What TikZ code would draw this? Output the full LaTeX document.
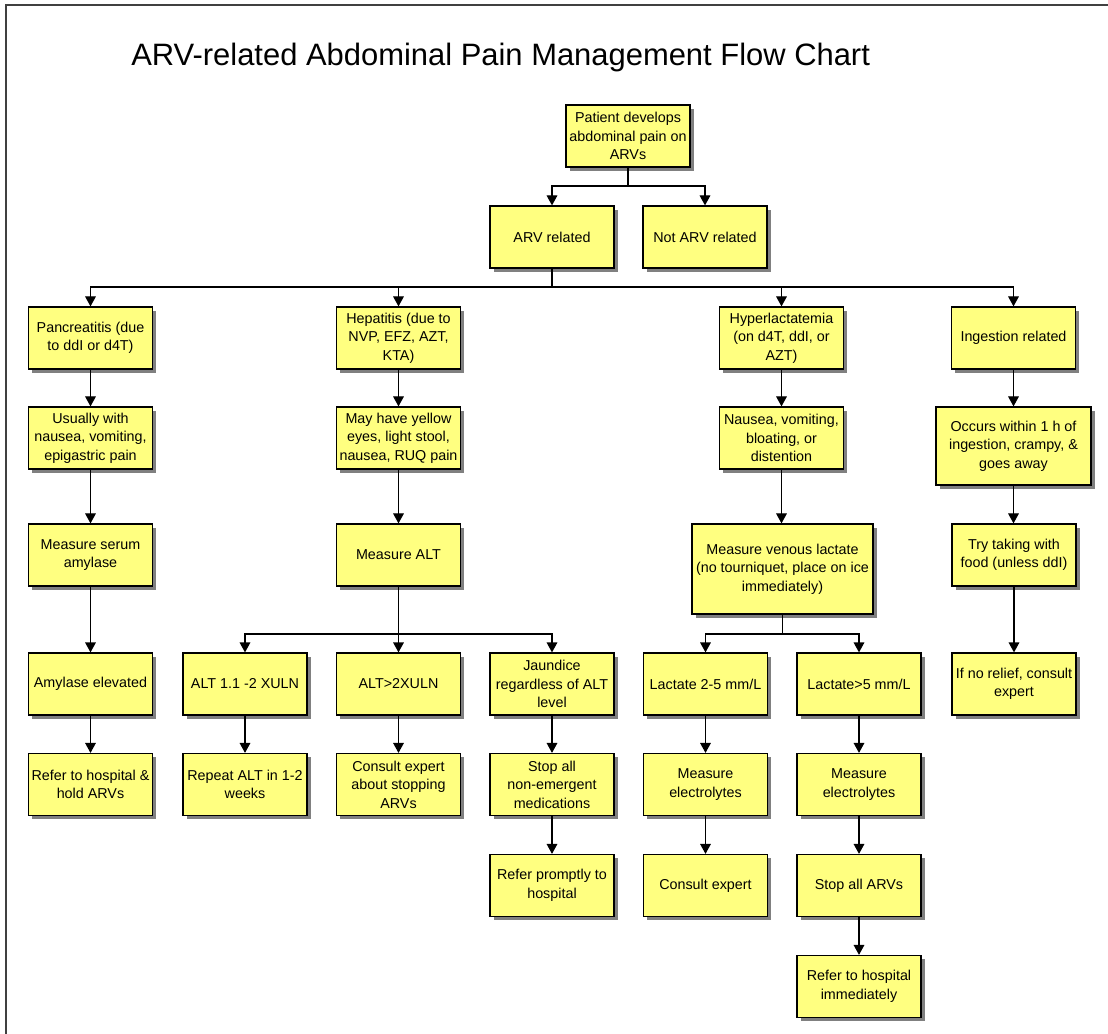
\documentclass[tikz,border=0pt]{standalone}
\usepackage{fontspec}
\setmainfont{Liberation Sans}
\usetikzlibrary{arrows.meta,shadows}
\definecolor{boxfill}{RGB}{255,255,128}
\definecolor{shadowgray}{RGB}{128,128,128}
\begin{document}
\begin{tikzpicture}[x=0.75pt,y=-0.75pt,
  bx/.style={draw=black, line width=0.9pt, fill=boxfill, rectangle, inner sep=1pt,
    minimum width=93pt, minimum height=46.5pt, align=center,
    font=\fontsize{10.75}{13.9}\selectfont,
    drop shadow={shadow xshift=2.8pt, shadow yshift=-2.8pt, fill=shadowgray, opacity=1}},
  ln/.style={draw=black, line width=0.9pt},
  arr/.style={draw=black, line width=0.9pt, -{Triangle[width=8pt,length=7.5pt]}}]
\useasboundingbox (0,0) rectangle (1108,1034);
\fill[white] (0,0) rectangle (1108,1034);
\draw[line width=1.5pt, black!75] (6,1034) -- (6,5) -- (1108,5);
\node[anchor=base west, inner sep=0pt, font=\fontsize{23.2}{28}\selectfont] (title) at (131,66) {ARV-related Abdominal Pain Management Flow Chart};
% row 1
\node[bx] (top) at (628,136) {Patient develops\\abdominal pain on\\ARVs};
\node[bx] (arv) at (552,237) {ARV related};
\node[bx] (notarv) at (705,237) {Not ARV related};
% row 2
\node[bx] (panc) at (90.5,338) {Pancreatitis (due\\to ddI or d4T)};
\node[bx] (hep) at (398.5,338) {Hepatitis (due to\\NVP, EFZ, AZT,\\KTA)};
\node[bx] (hyper) at (781.5,338) {Hyperlactatemia\\(on d4T, ddI, or\\AZT)};
\node[bx] (ingest) at (1013.5,338) {Ingestion related};
% row 3
\node[bx] (usually) at (90.5,438) {Usually with\\nausea, vomiting,\\epigastric pain};
\node[bx] (mayhave) at (398.5,438) {May have yellow\\eyes, light stool,\\nausea, RUQ pain};
\node[bx] (nausea) at (781.5,438) {Nausea, vomiting,\\bloating, or\\distention};
\node[bx, minimum width=116.25pt, minimum height=58.5pt] (occurs) at (1013.5,446) {Occurs within 1 h of\\ingestion, crampy, \&\\goes away};
% row 4
\node[bx] (measamy) at (90.5,555) {Measure serum\\amylase};
\node[bx] (measalt) at (398.5,555) {Measure ALT};
\node[bx, minimum width=135.75pt, minimum height=67.5pt] (venous) at (782.5,569) {Measure venous lactate\\(no tourniquet, place on ice\\immediately)};
\node[bx] (try) at (1014,555) {Try taking with\\food (unless ddI)};
% row 5
\node[bx] (amyel) at (90.5,684) {Amylase elevated};
\node[bx] (alta) at (245,684) {ALT 1.1 -2 XULN};
\node[bx] (altb) at (398.5,684) {ALT>2XULN};
\node[bx] (jaund) at (552,684) {Jaundice\\regardless of ALT\\level};
\node[bx] (laca) at (705.5,684) {Lactate 2-5 mm/L};
\node[bx] (lacb) at (859,684) {Lactate>5 mm/L};
\node[bx] (norelief) at (1014,684) {If no relief, consult\\expert};
% row 6
\node[bx] (refer) at (90.5,784.5) {Refer to hospital \&\\hold ARVs};
\node[bx] (repeat) at (245,784.5) {Repeat ALT in 1-2\\weeks};
\node[bx] (consab) at (398.5,784.5) {Consult expert\\about stopping\\ARVs};
\node[bx] (stopne) at (552,784.5) {Stop all\\non-emergent\\medications};
\node[bx] (eleca) at (705.5,784.5) {Measure\\electrolytes};
\node[bx] (elecb) at (859,784.5) {Measure\\electrolytes};
% row 7
\node[bx] (prompt) at (552,885.5) {Refer promptly to\\hospital};
\node[bx] (consult) at (705.5,885.5) {Consult expert};
\node[bx] (stoparv) at (859,885.5) {Stop all ARVs};
% row 8
\node[bx] (immed) at (859,986.5) {Refer to hospital\\immediately};
% bus coordinates
\coordinate (b1) at (628,186);
\coordinate (b2) at (552,287);
\coordinate (b3) at (398.5,634);
\coordinate (b4) at (782.5,634);
% connectors
\draw[ln] (top.south) -- (b1);
\draw[arr] (b1) -| (arv);
\draw[arr] (b1) -| (notarv);
\draw[ln] (arv.south) -- (b2);
\draw[arr] (b2) -| (panc);
\draw[arr] (b2) -| (hep);
\draw[arr] (b2) -| (hyper);
\draw[arr] (b2) -| (ingest);
\draw[arr] (panc) -- (usually);
\draw[arr] (hep) -- (mayhave);
\draw[arr] (hyper) -- (nausea);
\draw[arr] (ingest) -- (occurs);
\draw[arr] (usually) -- (measamy);
\draw[arr] (mayhave) -- (measalt);
\draw[arr] (nausea.south) -- (nausea.south |- venous.north);
\draw[arr] (occurs.south) -- (occurs.south |- try.north);
\draw[arr] (measamy) -- (amyel);
\draw[ln] (measalt.south) -- (b3);
\draw[arr] (b3) -| (alta);
\draw[arr] (b3) -- (altb);
\draw[arr] (b3) -| (jaund);
\draw[ln] (venous.south) -- (b4);
\draw[arr] (b4) -| (laca);
\draw[arr] (b4) -| (lacb);
\draw[arr] (try.south) -- (try.south |- norelief.north);
\draw[arr] (amyel) -- (refer);
\draw[arr] (alta) -- (repeat);
\draw[arr] (altb) -- (consab);
\draw[arr] (jaund) -- (stopne);
\draw[arr] (laca) -- (eleca);
\draw[arr] (lacb) -- (elecb);
\draw[arr] (stopne) -- (prompt);
\draw[arr] (eleca) -- (consult);
\draw[arr] (elecb) -- (stoparv);
\draw[arr] (stoparv) -- (immed);
\end{tikzpicture}
\end{document}
